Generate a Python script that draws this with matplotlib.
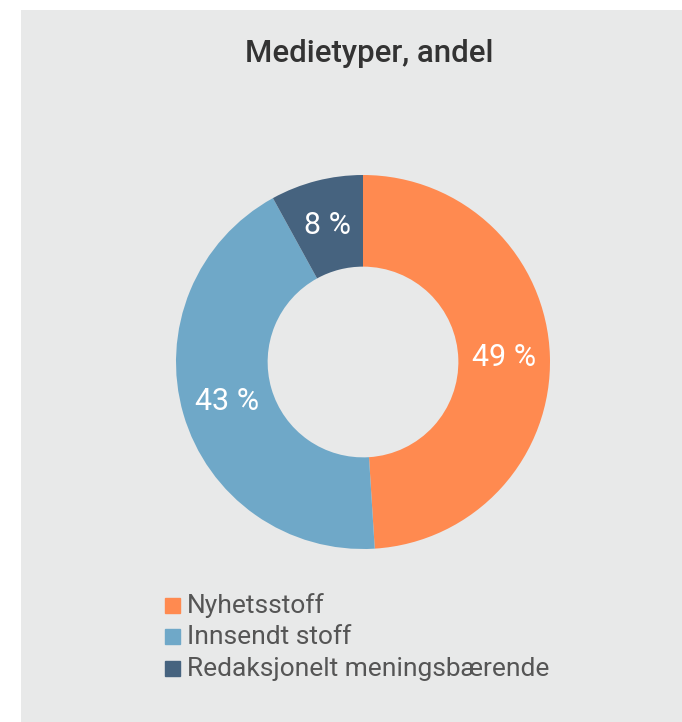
import matplotlib
matplotlib.use("Agg")
import matplotlib.pyplot as plt
from matplotlib.patches import Rectangle

title = "Medietyper, andel"
categories = ["Nyhetsstoff", "Innsendt stoff", "Redaksjonelt meningsbærende"]
values = [49, 43, 8]
colors = ["#FF8A50", "#6FA8C8", "#46637F"]

W, H = 682, 722
fig = plt.figure(figsize=(W / 100, H / 100), dpi=100)
plt.rcParams["font.family"] = ["Roboto", "DejaVu Sans"]

# grey panel
bg = fig.add_axes([21 / W, 0, 1 - 21 / W, (H - 10) / H], zorder=-5)
bg.set_facecolor("#E8E9E9")
bg.set_xticks([])
bg.set_yticks([])
for s in bg.spines.values():
    s.set_visible(False)

fig.text(369 / W, 1 - 53 / H, title, ha="center", va="center",
         fontsize=22.5, color="#333333", fontweight="medium")

# donut
cx, cy, r = 363, 362, 187
ax = fig.add_axes([(cx - r) / W, 1 - (cy + r) / H, 2 * r / W, 2 * r / H])
wedges, texts = ax.pie(values, colors=colors, startangle=90, counterclock=False,
                       radius=1, wedgeprops=dict(width=0.49, linewidth=0),
                       labels=[f"{v} %" for v in values], labeldistance=0.755)
for t in texts:
    t.set_ha("center")
    t.set_va("center")
    t.set_color("white")
    t.set_fontsize(22)
ax.set_xlim(-1, 1)
ax.set_ylim(-1, 1)
ax.set_aspect("equal")
ax.axis("off")

# legend
rows = [606, 637, 669]
for name, col, y in zip(categories, colors, rows):
    fig.patches.append(Rectangle((165 / W, 1 - (y + 7) / H), 15 / W, 15 / H,
                                 transform=fig.transFigure, color=col))
    fig.text(187 / W, 1 - y / H, name, ha="left", va="center",
             fontsize=19, color="#555555")

fig.savefig("out.png", dpi=100)
